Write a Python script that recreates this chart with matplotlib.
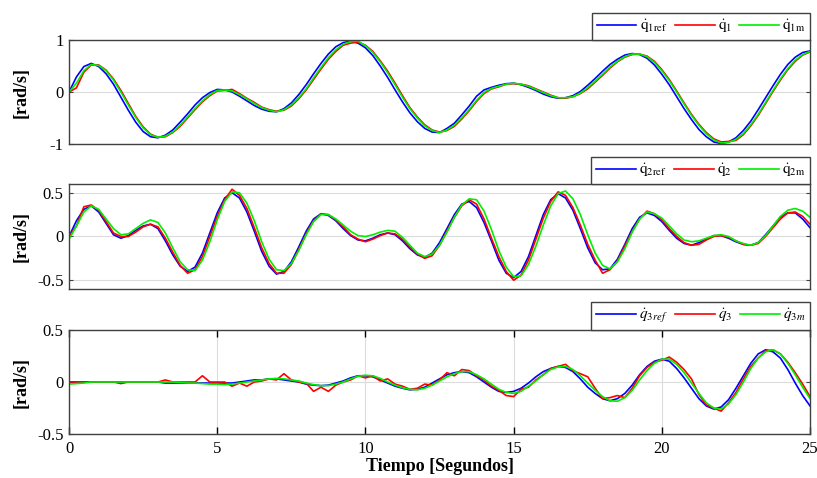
import numpy as np
import matplotlib
matplotlib.use("Agg")
import matplotlib.pyplot as plt

plt.rcParams["font.family"] = ["Liberation Serif", "DejaVu Serif"]
plt.rcParams["mathtext.fontset"] = "stix"

# time base, 0.25 s steps
t = np.arange(101) * 0.25

# joint 1 velocities [rad/s]
q1_ref = [0.00, 0.29, 0.49, 0.55, 0.49, 0.35, 0.15, -0.10, -0.35, -0.58, -0.76, -0.86,
          -0.88, -0.83, -0.73, -0.58, -0.42, -0.25, -0.11, -0.01, 0.05, 0.04, 0.00, -0.08,
          -0.17, -0.26, -0.33, -0.37, -0.38, -0.32, -0.21, -0.05, 0.14, 0.35, 0.55, 0.73,
          0.87, 0.95, 0.98, 0.94, 0.85, 0.70, 0.50, 0.28, 0.04, -0.19, -0.40, -0.57,
          -0.70, -0.77, -0.78, -0.70, -0.60, -0.44, -0.27, -0.08, 0.04, 0.09, 0.13, 0.16,
          0.17, 0.14, 0.09, 0.03, -0.04, -0.09, -0.12, -0.11, -0.07, 0.01, 0.13, 0.26,
          0.40, 0.53, 0.63, 0.71, 0.74, 0.72, 0.65, 0.52, 0.34, 0.14, -0.09, -0.32,
          -0.53, -0.72, -0.86, -0.96, -0.99, -0.96, -0.88, -0.74, -0.56, -0.34, -0.11, 0.12,
          0.34, 0.53, 0.67, 0.76, 0.79]
q1 = [0.00, 0.08, 0.38, 0.52, 0.52, 0.42, 0.25, 0.03, -0.22, -0.47, -0.67, -0.81,
      -0.87, -0.86, -0.78, -0.66, -0.50, -0.34, -0.19, -0.07, 0.02, 0.03, 0.05, -0.03,
      -0.12, -0.20, -0.29, -0.34, -0.37, -0.35, -0.27, -0.13, 0.04, 0.24, 0.44, 0.63,
      0.78, 0.90, 0.94, 0.96, 0.90, 0.78, 0.60, 0.40, 0.17, -0.07, -0.30, -0.48,
      -0.63, -0.73, -0.77, -0.74, -0.66, -0.52, -0.36, -0.18, -0.03, 0.06, 0.10, 0.15,
      0.16, 0.15, 0.12, 0.06, 0.00, -0.06, -0.11, -0.12, -0.09, -0.03, 0.06, 0.19,
      0.32, 0.46, 0.58, 0.67, 0.72, 0.73, 0.69, 0.59, 0.43, 0.24, 0.02, -0.21,
      -0.43, -0.62, -0.78, -0.90, -0.96, -0.95, -0.93, -0.82, -0.65, -0.45, -0.22, 0.01,
      0.23, 0.43, 0.59, 0.71, 0.77]
q1_m = [0.00, 0.17, 0.41, 0.53, 0.51, 0.41, 0.23, 0.00, -0.25, -0.49, -0.69, -0.82,
        -0.87, -0.85, -0.77, -0.64, -0.48, -0.32, -0.17, -0.05, 0.03, 0.04, 0.02, -0.05,
        -0.13, -0.22, -0.30, -0.35, -0.38, -0.34, -0.25, -0.11, 0.06, 0.27, 0.47, 0.66,
        0.81, 0.92, 0.97, 0.98, 0.89, 0.76, 0.58, 0.37, 0.14, -0.10, -0.32, -0.50,
        -0.65, -0.74, -0.78, -0.73, -0.64, -0.50, -0.34, -0.16, -0.01, 0.07, 0.11, 0.15,
        0.17, 0.15, 0.11, 0.05, -0.01, -0.07, -0.11, -0.11, -0.09, -0.02, 0.08, 0.21,
        0.34, 0.48, 0.59, 0.68, 0.73, 0.73, 0.68, 0.57, 0.41, 0.22, 0.00, -0.23,
        -0.45, -0.64, -0.80, -0.92, -0.98, -0.97, -0.91, -0.80, -0.63, -0.43, -0.20, 0.03,
        0.25, 0.45, 0.61, 0.72, 0.78]

# joint 2 velocities [rad/s]
q2_ref = [0.00, 0.18, 0.31, 0.35, 0.28, 0.15, 0.02, -0.02, 0.01, 0.07, 0.12, 0.14,
          0.09, -0.05, -0.21, -0.34, -0.40, -0.35, -0.19, 0.04, 0.27, 0.44, 0.50, 0.44,
          0.28, 0.06, -0.17, -0.34, -0.43, -0.40, -0.29, -0.12, 0.06, 0.20, 0.26, 0.24,
          0.18, 0.09, 0.01, -0.04, -0.05, -0.02, 0.02, 0.04, 0.02, -0.05, -0.14, -0.21,
          -0.24, -0.19, -0.07, 0.09, 0.25, 0.37, 0.40, 0.33, 0.16, -0.05, -0.27, -0.42,
          -0.47, -0.40, -0.23, 0.01, 0.25, 0.42, 0.49, 0.44, 0.30, 0.09, -0.13, -0.30,
          -0.38, -0.37, -0.26, -0.09, 0.09, 0.22, 0.27, 0.24, 0.17, 0.07, -0.02, -0.08,
          -0.10, -0.07, -0.03, 0.01, 0.01, -0.02, -0.06, -0.09, -0.10, -0.07, 0.02, 0.12,
          0.22, 0.27, 0.27, 0.20, 0.10]
q2 = [0.00, 0.12, 0.34, 0.36, 0.30, 0.17, 0.04, 0.00, 0.00, 0.05, 0.11, 0.14,
      0.11, -0.02, -0.18, -0.33, -0.42, -0.38, -0.23, 0.00, 0.23, 0.42, 0.54, 0.47,
      0.32, 0.10, -0.13, -0.31, -0.42, -0.42, -0.32, -0.15, 0.03, 0.18, 0.26, 0.25,
      0.19, 0.11, 0.02, -0.03, -0.06, -0.03, 0.01, 0.04, 0.03, -0.03, -0.12, -0.20,
      -0.25, -0.22, -0.10, 0.06, 0.22, 0.35, 0.42, 0.37, 0.20, -0.02, -0.23, -0.40,
      -0.50, -0.44, -0.27, -0.03, 0.21, 0.40, 0.51, 0.47, 0.33, 0.13, -0.09, -0.27,
      -0.42, -0.38, -0.28, -0.11, 0.06, 0.20, 0.29, 0.26, 0.19, 0.09, 0.00, -0.07,
      -0.10, -0.09, -0.04, 0.00, 0.01, -0.01, -0.05, -0.09, -0.10, -0.08, 0.00, 0.10,
      0.20, 0.27, 0.28, 0.23, 0.14]
q2_m = [-0.03, 0.12, 0.28, 0.35, 0.31, 0.20, 0.09, 0.02, 0.03, 0.09, 0.15, 0.19,
        0.16, 0.04, -0.13, -0.29, -0.38, -0.39, -0.27, -0.06, 0.19, 0.40, 0.51, 0.50,
        0.38, 0.18, -0.06, -0.26, -0.38, -0.39, -0.31, -0.16, 0.02, 0.17, 0.25, 0.25,
        0.20, 0.13, 0.06, 0.01, 0.00, 0.02, 0.05, 0.07, 0.06, -0.01, -0.10, -0.19,
        -0.23, -0.20, -0.10, 0.05, 0.22, 0.36, 0.43, 0.42, 0.29, 0.08, -0.16, -0.35,
        -0.46, -0.45, -0.32, -0.11, 0.13, 0.35, 0.49, 0.52, 0.43, 0.25, 0.02, -0.19,
        -0.33, -0.37, -0.29, -0.14, 0.05, 0.20, 0.28, 0.26, 0.21, 0.12, 0.03, -0.04,
        -0.06, -0.05, -0.02, 0.01, 0.02, 0.00, -0.05, -0.08, -0.10, -0.07, 0.01, 0.12,
        0.23, 0.30, 0.32, 0.29, 0.22]

# joint 3 velocities [rad/s]
q3_ref = [0.00, 0.00, 0.00, 0.00, 0.00, 0.00, 0.00, 0.00, 0.00, 0.00, 0.00, 0.00,
          0.00, -0.01, -0.01, -0.01, -0.01, -0.01, -0.01, -0.01, -0.01, -0.01, -0.01, 0.00,
          0.01, 0.02, 0.02, 0.03, 0.03, 0.02, 0.01, 0.00, -0.02, -0.03, -0.035, -0.03,
          -0.01, 0.01, 0.04, 0.06, 0.06, 0.05, 0.02, -0.01, -0.04, -0.06, -0.075, -0.07,
          -0.05, -0.01, 0.03, 0.07, 0.09, 0.10, 0.09, 0.05, 0.00, -0.05, -0.09, -0.10,
          -0.09, -0.06, -0.01, 0.05, 0.10, 0.13, 0.15, 0.14, 0.10, 0.03, -0.05, -0.11,
          -0.16, -0.18, -0.16, -0.11, -0.03, 0.07, 0.15, 0.20, 0.22, 0.20, 0.13, 0.04,
          -0.06, -0.16, -0.23, -0.26, -0.24, -0.17, -0.06, 0.06, 0.18, 0.27, 0.31, 0.29,
          0.23, 0.12, -0.01, -0.13, -0.23]
q3 = [0.00, 0.00, 0.00, 0.00, 0.00, 0.00, 0.00, -0.015, 0.00, 0.00, 0.00, 0.00,
      0.00, 0.02, 0.00, 0.00, 0.00, 0.00, 0.06, 0.00, 0.00, 0.00, -0.04, -0.01,
      -0.04, 0.00, 0.01, 0.03, 0.02, 0.08, 0.02, 0.00, -0.01, -0.09, -0.05, -0.09,
      -0.03, 0.00, 0.02, 0.06, 0.04, 0.06, 0.01, 0.03, -0.02, -0.04, -0.07, -0.06,
      -0.02, -0.03, 0.02, 0.09, 0.06, 0.12, 0.11, 0.06, 0.02, -0.04, -0.08, -0.13,
      -0.14, -0.07, -0.05, 0.02, 0.07, 0.13, 0.15, 0.17, 0.11, 0.08, 0.05, -0.06,
      -0.16, -0.15, -0.13, -0.15, -0.06, 0.06, 0.14, 0.19, 0.21, 0.24, 0.19, 0.12,
      0.03, -0.12, -0.22, -0.25, -0.28, -0.20, -0.10, 0.03, 0.15, 0.23, 0.30, 0.31,
      0.27, 0.19, 0.09, -0.02, -0.14]
q3_m = [-0.02, -0.015, -0.01, 0.00, 0.00, 0.00, 0.00, 0.00, 0.00, 0.00, 0.00, 0.00,
        0.00, 0.00, 0.00, -0.005, -0.01, -0.01, -0.015, -0.02, -0.02, -0.025, -0.02, -0.01,
        0.00, 0.01, 0.02, 0.03, 0.035, 0.03, 0.02, 0.01, -0.01, -0.025, -0.035, -0.035,
        -0.02, 0.00, 0.03, 0.055, 0.065, 0.06, 0.035, 0.00, -0.03, -0.055, -0.07, -0.075,
        -0.06, -0.03, 0.01, 0.05, 0.08, 0.10, 0.10, 0.07, 0.03, -0.02, -0.07, -0.10,
        -0.11, -0.09, -0.04, 0.01, 0.07, 0.12, 0.145, 0.15, 0.12, 0.06, -0.01, -0.08,
        -0.14, -0.18, -0.185, -0.15, -0.08, 0.02, 0.11, 0.18, 0.22, 0.22, 0.17, 0.09,
        -0.01, -0.11, -0.20, -0.25, -0.26, -0.21, -0.12, 0.00, 0.13, 0.23, 0.29, 0.31,
        0.27, 0.18, 0.07, -0.05, -0.16]

panels = [
    (q1_ref, q1, q1_m, (-1, 1), [-1, 0, 1], ["-1", "0", "1"],
     [r"$\dot{\mathrm{q}}_{\mathrm{1ref}}$", r"$\dot{\mathrm{q}}_{\mathrm{1}}$", r"$\dot{\mathrm{q}}_{\mathrm{1m}}$"]),
    (q2_ref, q2, q2_m, (-0.6, 0.6), [-0.5, 0, 0.5], ["-0.5", "0", "0.5"],
     [r"$\dot{\mathrm{q}}_{\mathrm{2ref}}$", r"$\dot{\mathrm{q}}_{\mathrm{2}}$", r"$\dot{\mathrm{q}}_{\mathrm{2m}}$"]),
    (q3_ref, q3, q3_m, (-0.5, 0.5), [-0.5, 0, 0.5], ["-0.5", "0", "0.5"],
     [r"$\dot{q}_{3ref}$", r"$\dot{q}_{3}$", r"$\dot{q}_{3m}$"]),
]
boxes = [(0.0845, 0.6987, 0.907, 0.2176),
         (0.0845, 0.3954, 0.907, 0.2197),
         (0.0845, 0.0920, 0.907, 0.2176)]

fig = plt.figure(figsize=(8.17, 4.78), dpi=100)
spine_c = "#404040"
for k, (ref, meas, mod, ylim, yt, ytl, labels) in enumerate(panels):
    ax = fig.add_axes(boxes[k])
    ax.plot(t, ref, color="#0000ff", lw=1.2, label=labels[0])
    ax.plot(t, meas, color="#ff0000", lw=1.2, label=labels[1])
    ax.plot(t, mod, color="#00ee00", lw=1.2, label=labels[2])
    ax.set_xlim(0, 25)
    ax.set_ylim(*ylim)
    ax.set_yticks(yt)
    ax.set_yticklabels(ytl)
    ax.grid(axis="y", color="#dcdcdc", lw=0.8)
    if k == 2:
        ax.set_xticks([0, 5, 10, 15, 20, 25])
        ax.grid(axis="x", color="#dcdcdc", lw=0.8)
        ax.set_xlabel("Tiempo [Segundos]", fontsize=13, fontweight="bold", labelpad=1)
        ax.tick_params(axis="x", direction="in", top=True, length=5, width=1,
                       color="black", labelsize=12, pad=5)
    else:
        ax.set_xticks([])
    ax.tick_params(axis="y", direction="in", right=True, length=3, width=0.8,
                   color=spine_c, labelsize=12, pad=4)
    ax.set_ylabel("[rad/s]", fontsize=13, fontweight="bold", labelpad=2)
    ax.yaxis.set_label_coords(-0.053, 0.5)
    for s in ax.spines.values():
        s.set_color(spine_c)
        s.set_linewidth(1.0)
    ax.set_axisbelow(True)
    leg = ax.legend(loc="lower right", bbox_to_anchor=(1.0, 1.0), ncol=3,
                    borderaxespad=0, fancybox=False, framealpha=1,
                    edgecolor=spine_c, fontsize=11, handlelength=2.6,
                    handletextpad=0.2, columnspacing=0.5, borderpad=0.3)
    leg.get_frame().set_linewidth(1.0)

fig.savefig("out.png", dpi=100)
